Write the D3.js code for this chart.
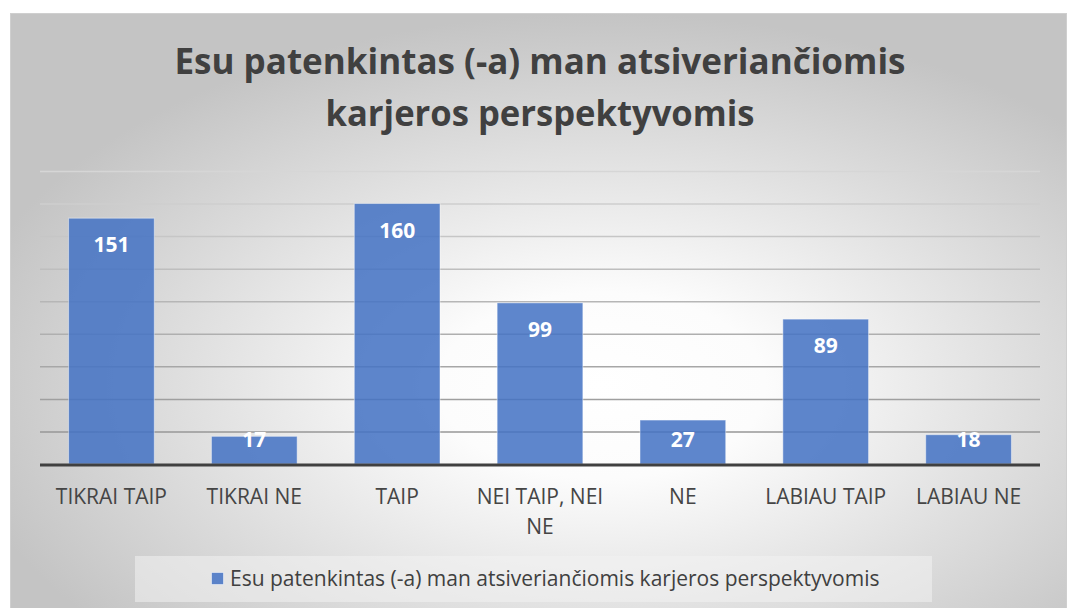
<!DOCTYPE html>
<html>
<head>
<meta charset="utf-8">
<script src="https://cdn.jsdelivr.net/npm/d3@7"></script>
<style>
  body { margin: 0; background: #fff; }
  svg { display: block; font-family: "Open Sans", "DejaVu Sans", sans-serif; }
</style>
</head>
<body>
<svg id="chart"></svg>
<script>
"use strict";

// ── Data ──────────────────────────────────────────────────────────────
const titleLines = ["Esu patenkintas (-a) man atsiveriančiomis", "karjeros perspektyvomis"];
const seriesName = "Esu patenkintas (-a) man atsiveriančiomis karjeros perspektyvomis";
const categories = ["TIKRAI TAIP", "TIKRAI NE", "TAIP", "NEI TAIP, NEI NE", "NE", "LABIAU TAIP", "LABIAU NE"];
const values = [151, 17, 160, 99, 27, 89, 18];
const yMax = 180;

// ── Layout ────────────────────────────────────────────────────────────
const totalW = 1069, totalH = 608;
const plot = { left: 40, right: 1040, top: 171, bottom: 464 };

const svg = d3.select("#chart")
  .attr("width", totalW)
  .attr("height", totalH);

const defs = svg.append("defs");
const bg = defs.append("radialGradient")
  .attr("id", "bgGrad")
  .attr("cx", "56%").attr("cy", "62%").attr("r", "62%")
  .attr("fx", "56%").attr("fy", "62%");
bg.append("stop").attr("offset", "0%").attr("stop-color", "#ffffff");
bg.append("stop").attr("offset", "25%").attr("stop-color", "#fcfcfc");
bg.append("stop").attr("offset", "100%").attr("stop-color", "#c4c4c4");

// chart area with border
svg.append("rect")
  .attr("x", 10.5).attr("y", 13.5)
  .attr("width", 1056).attr("height", 600)
  .attr("fill", "url(#bgGrad)")
  .attr("stroke", "#cfcfcf");

// ── Title ─────────────────────────────────────────────────────────────
const titleWidths = [731, 429];
svg.selectAll(".title-line")
  .data(titleLines)
  .join("text")
  .attr("class", "title-line")
  .attr("x", 540)
  .attr("y", (d, i) => 74 + i * 52)
  .attr("text-anchor", "middle")
  .attr("font-size", "36px")
  .attr("font-weight", "bold")
  .attr("fill", "#404040")
  .text(d => d)
  .each(function(d, i) {
    if (this.getComputedTextLength() > titleWidths[i]) {
      d3.select(this).attr("textLength", titleWidths[i]).attr("lengthAdjust", "spacingAndGlyphs");
    }
  });

// ── Scales ────────────────────────────────────────────────────────────
const x = d3.scaleBand()
  .domain(categories)
  .range([plot.left, plot.right])
  .paddingInner(0.4)
  .paddingOuter(0.2);

const y = d3.scaleLinear()
  .domain([0, yMax])
  .range([plot.bottom, plot.top]);

// Gridlines (get darker towards the bottom)
const grid = svg.append("g")
  .attr("class", "grid")
  .attr("transform", `translate(${plot.left},0)`)
  .call(d3.axisLeft(y).ticks(9).tickSize(-(plot.right - plot.left)).tickFormat(""));
grid.select(".domain").remove();
const gridShade = d3.interpolateRgb("#d6d6d6", "#8f8f8f");
grid.selectAll(".tick")
  .filter(d => d === 0)
  .remove();
grid.selectAll(".tick line")
  .attr("stroke", d => gridShade(1 - d / yMax))
  .attr("stroke-width", 1.5);

// ── Bars ──────────────────────────────────────────────────────────────
svg.append("g")
  .selectAll("rect")
  .data(values)
  .join("rect")
  .attr("x", (d, i) => x(categories[i]))
  .attr("y", d => y(d))
  .attr("width", x.bandwidth())
  .attr("height", d => y(0) - y(d))
  .attr("fill", "#4472c4")
  .attr("fill-opacity", 0.86)
  .attr("stroke", "#ffffff")
  .attr("stroke-opacity", 0.45)
  .attr("stroke-width", 1);

// Baseline
svg.append("line")
  .attr("x1", plot.left).attr("x2", plot.right)
  .attr("y1", y(0) + 1).attr("y2", y(0) + 1)
  .attr("stroke", "#404040")
  .attr("stroke-width", 3);

// Value labels (inside end, kept above the baseline for short bars)
svg.append("g")
  .selectAll("text")
  .data(values)
  .join("text")
  .attr("x", (d, i) => x(categories[i]) + x.bandwidth() / 2)
  .attr("y", d => Math.min(y(d) + 34, y(0) - 17))
  .attr("text-anchor", "middle")
  .attr("font-size", "21px")
  .attr("font-weight", "bold")
  .attr("fill", "#ffffff")
  .text(d => d);

// ── Category labels ───────────────────────────────────────────────────
function wrapLines(textSel, label, maxW) {
  const words = label.split(" ");
  const lines = [];
  let line = [];
  const probe = textSel.append("tspan");
  words.forEach(w => {
    const trial = line.concat(w).join(" ");
    probe.text(trial);
    if (probe.node().getComputedTextLength() > maxW && line.length) {
      lines.push(line.join(" "));
      line = [w];
    } else {
      line.push(w);
    }
  });
  lines.push(line.join(" "));
  probe.remove();
  return lines;
}

svg.append("g")
  .selectAll("text")
  .data(categories)
  .join("text")
  .attr("text-anchor", "middle")
  .attr("font-size", "21px")
  .attr("fill", "#454545")
  .each(function(d) {
    const t = d3.select(this);
    const cx = x(d) + x.bandwidth() / 2;
    const lines = wrapLines(t, d, 138);
    lines.forEach((ln, i) => {
      t.append("tspan")
        .attr("x", cx)
        .attr("y", 504 + i * 30)
        .text(ln);
    });
  });

// ── Legend ────────────────────────────────────────────────────────────
const legend = svg.append("g").attr("class", "legend");
legend.append("rect")
  .attr("x", 135).attr("y", 556)
  .attr("width", 797).attr("height", 46)
  .attr("fill", "#f2f2f2")
  .attr("fill-opacity", 0.55);
legend.append("rect")
  .attr("x", 211.5).attr("y", 572.5)
  .attr("width", 12).attr("height", 12)
  .attr("fill", "#4472c4")
  .attr("fill-opacity", 0.86)
  .attr("stroke", "#ffffff")
  .attr("stroke-opacity", 0.5);
legend.append("text")
  .attr("x", 230).attr("y", 586)
  .attr("font-size", "21px")
  .attr("fill", "#404040")
  .text(seriesName);
</script>
</body>
</html>
